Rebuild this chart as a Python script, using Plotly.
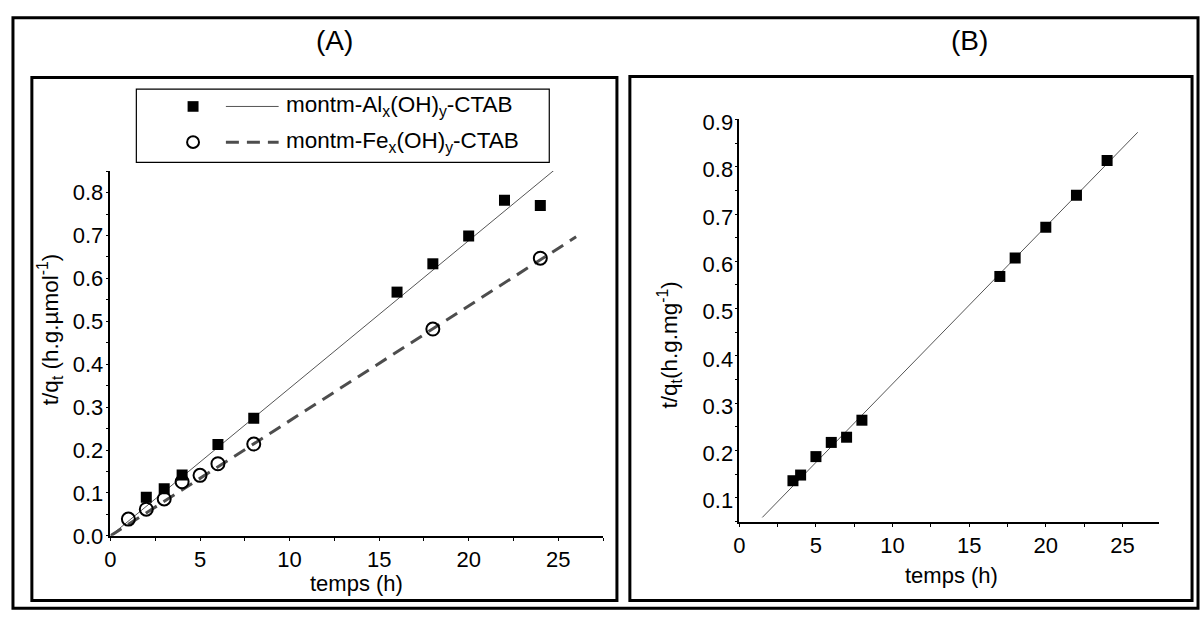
import plotly.graph_objects as go

W, H = 1201, 627

# ---- Panel A: pseudo-second-order kinetics, two adsorbents ----
a_al_time = [2, 3, 4, 6, 8, 16, 18, 20, 22, 24]
a_al_tq = [0.090, 0.110, 0.142, 0.213, 0.274, 0.568, 0.634, 0.699, 0.782, 0.770]
a_fe_time = [1, 2, 3, 4, 5, 6, 8, 18, 24]
a_fe_tq = [0.039, 0.062, 0.086, 0.126, 0.141, 0.168, 0.214, 0.482, 0.647]
a_al_fit = (0.0344, 0.0)      # slope, intercept
a_fe_fit = (0.0268, 0.0)
a_fit_span = [0, 26]
a_series_names = ["montm-Al<sub>x</sub>(OH)<sub>y</sub>-CTAB",
                  "montm-Fe<sub>x</sub>(OH)<sub>y</sub>-CTAB"]

# ---- Panel B ----
b_time = [3.5, 4, 5, 6, 7, 8, 17, 18, 20, 22, 24]
b_tq = [0.136, 0.148, 0.187, 0.217, 0.228, 0.264, 0.568, 0.607, 0.672, 0.740, 0.813]
b_fit = (0.03325, 0.0085)
b_fit_span = [1.5, 26]

FONT = "Liberation Sans, Arial, sans-serif"


def fx(x):
    return x / W


def fy(y):
    return 1 - y / H


def fit_line(coef, span):
    s, b = coef
    return span, [b + s * t for t in span]


fig = go.Figure()

# Panel A traces
xs, ys = fit_line(a_al_fit, a_fit_span)
fig.add_trace(go.Scatter(x=xs, y=ys, mode="lines", line=dict(color="#555555", width=1),
                         xaxis="x", yaxis="y", hoverinfo="skip"))
xs, ys = fit_line(a_fe_fit, a_fit_span)
fig.add_trace(go.Scatter(x=xs, y=ys, mode="lines",
                         line=dict(color="#4d4d4d", width=3, dash="13px,8px"),
                         xaxis="x", yaxis="y", hoverinfo="skip"))
fig.add_trace(go.Scatter(x=a_al_time, y=a_al_tq, mode="markers", name=a_series_names[0],
                         marker=dict(symbol="square", size=11, color="black"),
                         xaxis="x", yaxis="y"))
fig.add_trace(go.Scatter(x=a_fe_time, y=a_fe_tq, mode="markers", name=a_series_names[1],
                         marker=dict(symbol="circle-open", size=13, color="black",
                                     line=dict(width=2, color="black")),
                         xaxis="x", yaxis="y"))

# Panel B traces
xs, ys = fit_line(b_fit, b_fit_span)
fig.add_trace(go.Scatter(x=xs, y=ys, mode="lines", line=dict(color="#555555", width=1),
                         xaxis="x2", yaxis="y2", hoverinfo="skip"))
fig.add_trace(go.Scatter(x=b_time, y=b_tq, mode="markers",
                         marker=dict(symbol="square", size=11, color="black"),
                         xaxis="x2", yaxis="y2"))

axis_common = dict(showline=True, linecolor="black", linewidth=1.5, showgrid=False,
                   zeroline=False, ticks="outside", ticklen=3, tickwidth=1.2,
                   tickcolor="black", mirror=False)
tick_font = dict(family=FONT, size=22, color="black")

fig.update_layout(
    width=W, height=H, margin=dict(l=0, r=0, t=0, b=0),
    paper_bgcolor="white", plot_bgcolor="white", showlegend=False,
    xaxis=dict(domain=[fx(105), fx(600)], range=[0, 27.5], dtick=5, tick0=0,
               minor=dict(dtick=2.5, ticks="outside", ticklen=3, tickcolor="black"),
               tickfont=tick_font, anchor="y", **axis_common),
    yaxis=dict(domain=[fy(546), fy(168)], range=[0, 0.85], dtick=0.1, tick0=0,
               tickformat=".1f", ticklabelstandoff=-2,
               minor=dict(dtick=0.05, ticks="outside", ticklen=3, tickcolor="black"),
               tickfont=tick_font, anchor="x", **axis_common),
    xaxis2=dict(domain=[fx(737), fx(1159)], range=[0, 27.4], dtick=5, tick0=0,
                minor=dict(dtick=2.5, ticks="outside", ticklen=3, tickcolor="black"),
                tickfont=tick_font, anchor="y2", **axis_common),
    yaxis2=dict(domain=[fy(532), fy(114.5)], range=[0.048, 0.9], dtick=0.1, tick0=0,
                tickformat=".1f", ticklabelshift=3, ticklabelstandoff=-3,
                minor=dict(dtick=0.05, ticks="outside", ticklen=3, tickcolor="black"),
                tickfont=tick_font, anchor="x2", **axis_common),
)


def rect(x0, y0, x1, y1, width=3, color="black"):
    return dict(type="rect", xref="paper", yref="paper",
                x0=fx(x0), x1=fx(x1), y0=fy(y1), y1=fy(y0),
                line=dict(color=color, width=width), fillcolor="rgba(0,0,0,0)", layer="above")


shapes = [
    rect(7, 9, 1198, 621, 3),      # outer frame
    rect(26, 71, 614, 613, 3),     # panel A frame
    rect(627, 70, 1192, 613, 3),   # panel B frame
    rect(131, 83, 546, 159, 1.2),  # legend box
]

# legend glyphs
shapes.append(dict(type="rect", xref="paper", yref="paper",
                   x0=fx(182.5), x1=fx(193.5), y0=fy(106.5), y1=fy(95.5),
                   line=dict(width=0), fillcolor="black"))
shapes.append(dict(type="circle", xref="paper", yref="paper",
                   x0=fx(182), x1=fx(194), y0=fy(144), y1=fy(132),
                   line=dict(width=2, color="black"), fillcolor="white"))
shapes.append(dict(type="line", xref="paper", yref="paper",
                   x0=fx(221), x1=fx(274), y0=fy(101), y1=fy(101),
                   line=dict(width=1, color="#555555")))
shapes.append(dict(type="line", xref="paper", yref="paper",
                   x0=fx(221), x1=fx(274), y0=fy(138), y1=fy(138),
                   line=dict(width=3, color="#4d4d4d", dash="13px,8px")))
fig.update_layout(shapes=shapes)

ann = []


def text(x, y, s, size, angle=0, xanchor="center"):
    ann.append(dict(x=fx(x), y=fy(y), xref="paper", yref="paper", text=s,
                    showarrow=False, textangle=angle, xanchor=xanchor, yanchor="middle",
                    borderpad=0,
                    font=dict(family=FONT, size=size, color="black")))


text(330, 33, "(A)", 28)
text(968, 33, "(B)", 28)
text(280, 101, a_series_names[0], 22.5, xanchor="left")
text(280, 138, a_series_names[1], 22.5, xanchor="left")
text(352, 595, "temps (h)", 22)
text(44, 332, "t/q<sub>t</sub> (h.g.µmol<sup>-1</sup>)", 22.5, angle=-90)
text(950, 587, "temps (h)", 22)
text(667, 348, "t/q<sub>t</sub>(h.g.mg<sup>-1</sup>)", 22.5, angle=-90)
fig.update_layout(annotations=ann)

fig.write_html("out.html")
